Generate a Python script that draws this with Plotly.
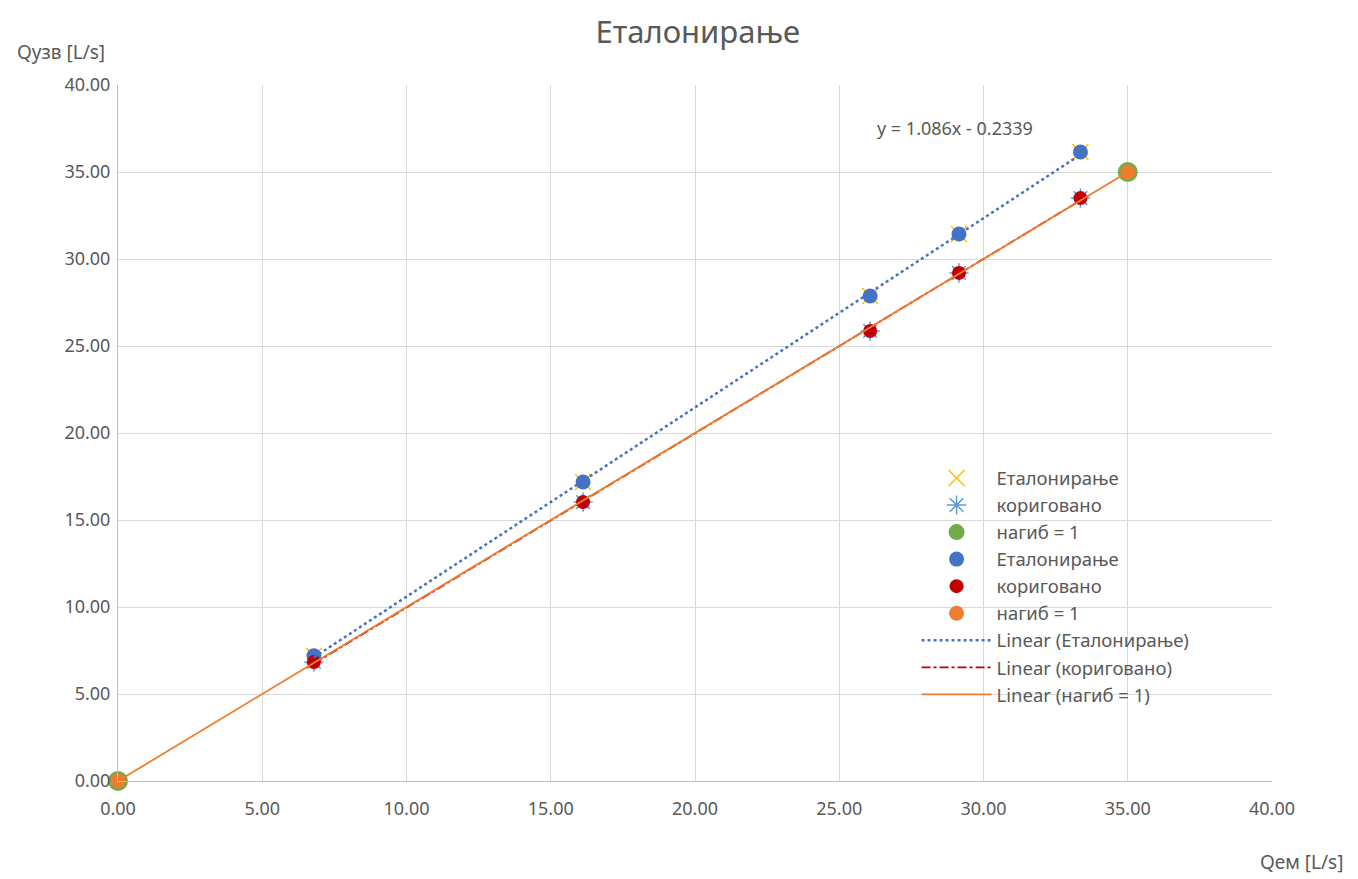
import numpy as np
import plotly.graph_objects as go

# ---- data ----
x_etal = [6.79, 16.12, 26.07, 29.15, 33.36]
y_etal = [7.20, 17.18, 27.87, 31.44, 36.15]
x_korig = [6.79, 16.12, 26.07, 29.15, 33.36]
y_korig = [6.84, 16.03, 25.86, 29.20, 33.50]
x_nagib = [0.0, 35.0]
y_nagib = [0.0, 35.0]
tick_vals = [0, 5, 10, 15, 20, 25, 30, 35, 40]

name_etal = "Еталонирање"
name_korig = "кориговано"
name_nagib = "нагиб = 1"
trend_label = "y = 1.086x - 0.2339"

FONT = "Noto Sans"
GRAY = "#595959"

def fit_line(xs, ys):
    k, b = np.polyfit(xs, ys, 1)
    xx = [min(xs), max(xs)]
    return xx, [k * v + b for v in xx]

fig = go.Figure()

# marker series (X / asterisk / green)
fig.add_trace(go.Scatter(x=x_etal, y=y_etal, mode="markers", name=name_etal, legendrank=1,
                         cliponaxis=False,
                         marker=dict(symbol="x-thin-open", size=16, color="#FFC000",
                                     line=dict(color="#FFC000", width=1.5))))
fig.add_trace(go.Scatter(x=x_korig, y=y_korig, mode="markers", name=name_korig, legendrank=2,
                         cliponaxis=False,
                         marker=dict(symbol="asterisk-open", size=16, color="#5B9BD5",
                                     line=dict(color="#5B9BD5", width=1.5))))
fig.add_trace(go.Scatter(x=x_nagib, y=y_nagib, mode="markers", name=name_nagib, legendrank=3,
                         cliponaxis=False,
                         marker=dict(symbol="circle", size=20, color="#70AD47")))
fig.add_trace(go.Scatter(x=x_etal, y=y_etal, mode="markers", name=name_etal, legendrank=4,
                         cliponaxis=False,
                         marker=dict(symbol="circle", size=15, color="#4472C4")))
fig.add_trace(go.Scatter(x=x_korig, y=y_korig, mode="markers", name=name_korig, legendrank=5,
                         cliponaxis=False,
                         marker=dict(symbol="circle", size=14, color="#C00000")))

# trendlines
tx, ty = fit_line(x_etal, y_etal)
fig.add_trace(go.Scatter(x=tx, y=ty, mode="lines", name="Linear (" + name_etal + ")", legendrank=7,
                         line=dict(color="#4472C4", width=2.5, dash="dot")))
tx, ty = fit_line(x_korig, y_korig)
fig.add_trace(go.Scatter(x=tx, y=ty, mode="lines", name="Linear (" + name_korig + ")", legendrank=8,
                         line=dict(color="#C00000", width=1.8, dash="dashdot")))
tx, ty = fit_line(x_nagib, y_nagib)
fig.add_trace(go.Scatter(x=tx, y=ty, mode="lines", name="Linear (" + name_nagib + ")", legendrank=9,
                         line=dict(color="#ED7D31", width=1.8)))

fig.add_trace(go.Scatter(x=x_nagib, y=y_nagib, mode="markers", name=name_nagib, legendrank=6,
                         cliponaxis=False,
                         marker=dict(symbol="circle", size=15, color="#ED7D31")))

axis_common = dict(range=[0, 40], tickvals=tick_vals, tickformat=".2f",
                   showgrid=True, gridcolor="#D9D9D9", gridwidth=1,
                   zeroline=False, showline=True, linecolor="#BFBFBF", linewidth=1,
                   ticks="outside", tickcolor="rgba(0,0,0,0)",
                   tickfont=dict(family=FONT, size=18, color=GRAY),
                   fixedrange=True)

fig.update_layout(
    width=1358, height=879,
    margin=dict(l=110, r=94, t=77, b=106),
    paper_bgcolor="white", plot_bgcolor="white",
    font=dict(family=FONT, color=GRAY),
    title=dict(text="Еталонирање", x=0.508, xanchor="center", y=0.972, yanchor="middle",
               font=dict(family=FONT, size=31, color=GRAY)),
    xaxis=dict(**axis_common, ticklen=11),
    yaxis=dict(**axis_common, ticklen=3),
    legend=dict(x=0.692, y=0.462, xanchor="left", yanchor="top",
                bgcolor="rgba(0,0,0,0)", itemwidth=70,
                font=dict(family=FONT, size=18.5, color=GRAY),
                tracegroupgap=0),
    annotations=[
        dict(text="Qузв [L/s]", xref="paper", yref="paper", x=-0.0893, y=1.047,
             xanchor="left", yanchor="middle", showarrow=False,
             font=dict(family=FONT, size=19, color=GRAY)),
        dict(text="Qем [L/s]", xref="paper", yref="paper", x=1.063, y=-0.116,
             xanchor="right", yanchor="middle", showarrow=False,
             font=dict(family=FONT, size=19, color=GRAY)),
        dict(text=trend_label, xref="x", yref="y", x=29.0, y=37.53,
             xanchor="center", yanchor="middle", showarrow=False,
             font=dict(family=FONT, size=18, color=GRAY)),
    ],
)

fig.write_html("out.html")
